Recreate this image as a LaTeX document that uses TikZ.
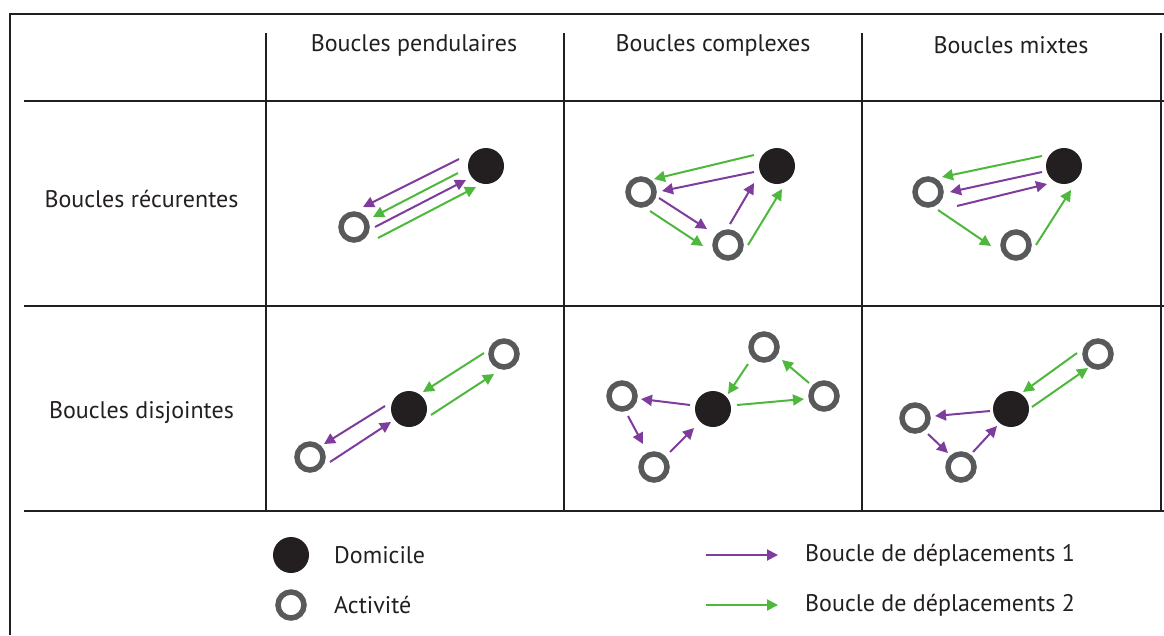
\documentclass[tikz,border=0pt]{standalone}
\usepackage{fontspec}
\setmainfont{PT Sans}
\usetikzlibrary{arrows.meta}
\definecolor{ink}{HTML}{231F20}
\definecolor{purp}{HTML}{7E3C9C}
\definecolor{grn}{HTML}{4DB83C}
\definecolor{ring}{HTML}{58595B}
\tikzset{
  rule/.style={draw=ink, line width=1.6pt},
  frame/.style={draw=ink, line width=2.6pt},
  home/.style={circle, fill=ink, minimum size=36pt, inner sep=0pt},
  act/.style={circle, draw=ring, line width=5.5pt, minimum size=26pt, inner sep=0pt},
  p/.style={draw=purp, line width=2pt, -{Triangle[length=11pt,width=11pt]}},
  g/.style={draw=grn, line width=2pt, -{Triangle[length=11pt,width=11pt]}},
  lab/.style={text=ink, font=\fontsize{24pt}{26pt}\selectfont, inner sep=0pt},
}
\begin{document}
\begin{tikzpicture}[x=1pt,y=-1pt]
\useasboundingbox (0,0) rectangle (1164,635);
% frame
\draw[frame] (10,635) -- (10,14) -- (1164,14);
% table
\draw[rule] (24,101) -- (1164,101);
\draw[rule] (24,306) -- (1164,306);
\draw[rule] (24,511) -- (1164,511);
\foreach \x in {266,564,862,1161} \draw[rule] (\x,33) -- (\x,511);
% headers
\node[lab] (h1) at (414,45) {Boucles pendulaires};
\node[lab] (h2) at (713,45) {Boucles complexes};
\node[lab] (h3) at (1011,45) {Boucles mixtes};
\node[lab] (r1) at (141.5,199) {Boucles récurentes};
\node[lab] (r2) at (141.5,413) {Boucles disjointes};
% cell 1,1
\node[home] (d11) at (486,166) {};
\node[act] (a11) at (354,227) {};
\draw[p] (459,159) -- (363,207);
\draw[g] (458,173) -- (373,217);
\draw[p] (375,227) -- (466,180);
\draw[g] (378,238) -- (476,187);
% cell 1,2
\node[home] (d12) at (777,166) {};
\node[act] (a12a) at (641,192) {};
\node[act] (a12b) at (728,245) {};
\draw[g] (754,155) -- (654,179);
\draw[p] (754,172) -- (662,191);
\draw[p] (659,198) -- (707,229);
\draw[g] (650,211) -- (703,246);
\draw[p] (730,224) -- (754,183);
\draw[g] (748,245) -- (782,189);
% cell 1,3
\node[home] (d13) at (1064,166) {};
\node[act] (a13a) at (928,192) {};
\node[act] (a13b) at (1016,245) {};
\draw[g] (1042,156) -- (942,177);
\draw[p] (1042,172) -- (950,192);
\draw[p] (957,206) -- (1047,184);
\draw[g] (938,210) -- (991,246);
\draw[g] (1036,245) -- (1071,190);
% cell 2,1
\node[home] (d21) at (409,409) {};
\node[act] (a21a) at (504,354) {};
\node[act] (a21b) at (310,457) {};
\draw[g] (484,353) -- (423,392);
\draw[g] (431,415) -- (494,374);
\draw[p] (385,406) -- (324,444);
\draw[p] (330,462) -- (391,422);
% cell 2,2
\node[home] (d22) at (713,409) {};
\node[act] (a22l) at (622,396) {};
\node[act] (a22b) at (654,467) {};
\node[act] (a22t) at (764,347) {};
\node[act] (a22r) at (824,396) {};
\draw[p] (690,405) -- (641,399);
\draw[p] (628,416) -- (643,444);
\draw[p] (670,452) -- (694,428);
\draw[g] (737,405) -- (804,399);
\draw[g] (809,383) -- (782,360);
\draw[g] (748,364) -- (728,394);
% cell 2,3
\node[home] (d23) at (1011,409) {};
\node[act] (a23t) at (1098,354) {};
\node[act] (a23l) at (915,418) {};
\node[act] (a23b) at (961,467) {};
\draw[g] (1077,353) -- (1023,392);
\draw[g] (1032,407) -- (1088,368);
\draw[p] (990,411) -- (935,416);
\draw[p] (928,434) -- (948,453);
\draw[p] (973,452) -- (997,426);
% legend
\node[home] (lh) at (291,555) {};
\node[act] (la) at (291,605) {};
\node[lab, anchor=west] (lht) at (334,555) {Domicile};
\node[lab, anchor=west] (lat) at (334,605) {Activité};
\coordinate (lp1) at (706,555);
\coordinate (lp2) at (778,555);
\coordinate (lg1) at (706,605);
\coordinate (lg2) at (778,605);
\draw[p] (lp1) -- (lp2);
\draw[g] (lg1) -- (lg2);
\node[lab, anchor=west] (lpt) at (805,555) {Boucle de déplacements 1};
\node[lab, anchor=west] (lgt) at (805,605) {Boucle de déplacements 2};
\end{tikzpicture}
\end{document}
